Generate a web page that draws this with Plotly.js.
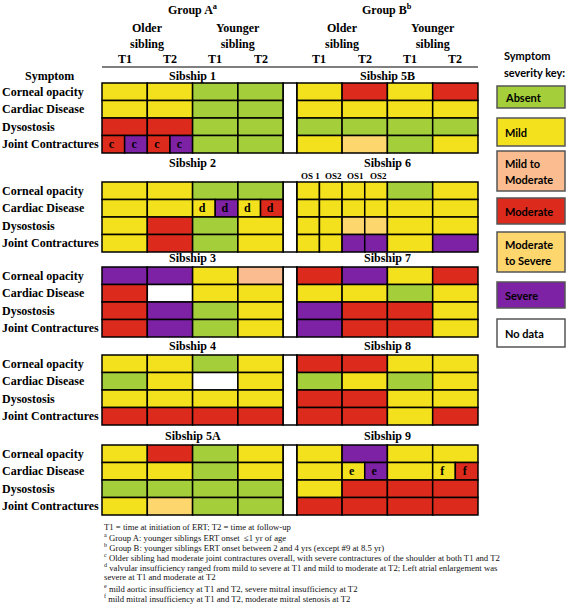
<!DOCTYPE html>
<html>
<head>
<meta charset="utf-8">
<script src="https://cdn.plot.ly/plotly-3.0.1.min.js"></script>
<style>html,body{margin:0;padding:0;background:#fff;} #chart{width:567px;height:604px;}</style>
</head>
<body>
<div id="chart"></div>
<script>
// ---------------- DATA ----------------
const symptoms = ["Corneal opacity", "Cardiac Disease", "Dysostosis", "Joint Contractures"];
const timeLabels = ["T1", "T2", "T1", "T2"];
const siblingLabels = ["Older<br>sibling", "Younger<br>sibling"];
const groupLabels = ["Group A<sup>a</sup>", "Group B<sup>b</sup>"];

const severityCodes = ["Ab", "Mi", "MM", "Mo", "MS", "Se", "ND"];
const severityLabels = ["Absent", "Mild", "Mild to\nModerate", "Moderate", "Moderate\nto Severe", "Severe", "No data"];

const sibshipNames = ["Sibship 1", "Sibship 2", "Sibship 3", "Sibship 4", "Sibship 5A",
                      "Sibship 5B", "Sibship 6", "Sibship 7", "Sibship 8", "Sibship 9"];
const sibshipGroup = ["A", "A", "A", "A", "A", "B", "B", "B", "B", "B"];

// cell = severity code; "x|y" = split cell; ":n" = footnote letter
// columns: older T1, older T2, younger T1, younger T2 ; rows: symptoms
const sib1  = [["Mi","Mi","Ab","Ab"], ["Mi","Mi","Ab","Ab"], ["Mo","Mo","Ab","Ab"], ["Mo|Se:c","Mo|Se:c","Ab","Ab"]];
const sib2  = [["Mi","Mi","Ab","Ab"], ["Mi","Mi","Mi|Se:d","Mi|Mo:d"], ["Mi","Mo","Ab","Mi"], ["Mi","Mo","Ab","Mi"]];
const sib3  = [["Se","Se","Mi","MM"], ["Mo","ND","Mi","Mi"], ["Mo","Se","Ab","Mi"], ["Mo","Se","Ab","Mi"]];
const sib4  = [["Mi","Mi","Ab","Mi"], ["Ab","Mi","ND","Mi"], ["Mi","Mi","Mi","Mi"], ["Mo","Mo","Mo","Mo"]];
const sib5A = [["Mi","Mo","Ab","Mi"], ["Mi","Mi","Ab","Mi"], ["Ab","Ab","Ab","Ab"], ["Mi","MS","Ab","Ab"]];
const sib5B = [["Mi","Mo","Mi","Mo"], ["Mi","Mi","Mi","Mi"], ["Ab","Ab","Ab","Ab"], ["Mi","MS","Ab","Mi"]];
const sib6  = [["Mi|Mi","Mi|Mi","Ab","Mi"], ["Mi|Mi","Mi|Mi","Mi","Mi"], ["Mi|Mi","MS|MS","Mi","Mi"], ["Mi|Mi","Se|Se","Mi","Se"]];
const sib7  = [["Mo","Se","Mi","Mo"], ["Mi","Mi","Ab","Mi"], ["Se","Mo","Mo","Mi"], ["Se","Mo","Mo","Mi"]];
const sib8  = [["Mo","Mo","Mi","Mi"], ["Ab","Mi","Ab","Mi"], ["Mo","Mo","Mi","Mi"], ["Mo","Mo","Mi","Mo"]];
const sib9  = [["Mi","Se","Mi","Mi"], ["Mi","Mi|Se:e","Mi","Mi|Mo:f"], ["Mi","Mo","Mo","Mo"], ["Mo","Mo","Mo","Mo"]];
const sibshipValues = [sib1, sib2, sib3, sib4, sib5A, sib5B, sib6, sib7, sib8, sib9];

const osLabels = ["OS 1", "OS2", "OS1", "OS2"];

const footnotes = [
  "T1 = time at initiation of ERT; T2 = time at follow-up",
  "<sup>a</sup> Group A: younger siblings ERT onset  \u22641 yr of age",
  "<sup>b</sup> Group B: younger siblings ERT onset between 2 and 4 yrs (except #9 at 8.5 yr)",
  "<sup>c</sup> Older sibling had moderate joint contractures overall, with severe contractures of the shoulder at both T1 and T2",
  "<sup>d</sup> valvular insufficiency ranged from mild to severe at T1 and mild to moderate at T2; Left atrial enlargement was",
  "severe at T1 and moderate at T2",
  "<sup>e</sup> mild aortic insufficiency at T1 and T2, severe mitral insufficiency at T2",
  "<sup>f</sup> mild mitral insufficiency at T1 and T2, moderate mitral stenosis at T2"
];

// ---------------- STYLE / GEOMETRY ----------------
const colors = {Ab:"#a4cf3b", Mi:"#f3e11d", MM:"#fbbd8f", Mo:"#dc2b1c", MS:"#fdd66d", Se:"#7d21a5", ND:"#ffffff"};
const W = 567, H = 604;
const PXC = 45.3, PXR = 17.5, X0 = 102, Y0 = 83;
const px2x = p => (p - X0) / PXC;
const px2y = p => (p - Y0) / PXR;
const groupStart = {A: 0, B: 4.3};
const blockTop = [0, 5.66, 10.51, 15.54, 20.69];
const titleLift = [0.42, 1.1, 0.52, 0.52, 0.52];
const serif = "Liberation Serif, Times New Roman, serif";
const sans = "Lato, Liberation Sans, sans-serif";

// ---------------- BUILD ----------------
const bx = [], bw = [], by = [], bh = [], bc = [];
const lx = [], ly = [], lt = [];
sibshipValues.forEach((vals, s) => {
  const b = s % 5, gx = groupStart[sibshipGroup[s]];
  vals.forEach((row, r) => {
    row.forEach((cell, c) => {
      const [codeStr, note] = cell.split(":");
      const parts = codeStr.split("|");
      const w = 1 / parts.length;
      parts.forEach((code, k) => {
        const x0 = gx + c + k * w;
        bx.push(x0); bw.push(w); by.push(blockTop[b] + r + 0.5); bh.push(1); bc.push(colors[code]);
        if (note) { lx.push(x0 + w * 0.42); ly.push(blockTop[b] + r + 0.55); lt.push(note); }
      });
    });
  });
});

const traces = [];
traces.push({
  type: "bar", orientation: "h", base: bx, x: bw, y: by, width: bh,
  marker: {color: bc, line: {color: "#000", width: 1.5}},
  hoverinfo: "skip", showlegend: false
});
// white separator column
traces.push({
  type: "bar", orientation: "h",
  base: blockTop.map(() => 4), x: blockTop.map(() => 0.3),
  y: blockTop.map(t => t + 2), width: blockTop.map(() => 4),
  marker: {color: "#fff", line: {color: "#000", width: 1.5}},
  hoverinfo: "skip", showlegend: false
});
// cell footnote letters
traces.push({
  type: "scatter", mode: "text", x: lx, y: ly, text: lt,
  textfont: {family: serif, size: 12, color: "#000", weight: "bold"},
  hoverinfo: "skip", showlegend: false
});
// severity key boxes
const keyTopPx = [86, 118, 151, 198, 232, 282, 319];
const keyBotPx = [108, 146, 191, 224, 272, 308, 347];
traces.push({
  type: "bar", orientation: "h",
  base: severityCodes.map(() => px2x(497)), x: severityCodes.map(() => (565 - 497) / PXC),
  y: severityCodes.map((c, i) => px2y((keyTopPx[i] + keyBotPx[i]) / 2)),
  width: severityCodes.map((c, i) => (keyBotPx[i] - keyTopPx[i]) / PXR),
  marker: {color: severityCodes.map(c => colors[c]), line: {color: "#555", width: 1.5}},
  hoverinfo: "skip", showlegend: false
});

const ann = [];
const A = (x, y, text, o = {}) => ann.push(Object.assign({
  x, y, xref: "x", yref: "y", text, showarrow: false,
  font: {family: serif, size: 12, color: "#000", weight: "bold"}
}, o));

["A", "B"].forEach((g, gi) => {
  const gx = groupStart[g];
  A(gx + 2, px2y(9), groupLabels[gi]);
  A(gx + 1, px2y(35.5), siblingLabels[0]);
  A(gx + 3, px2y(35.5), siblingLabels[1]);
  timeLabels.forEach((t, c) => A(gx + c + 0.5, px2y(59), t));
});
A(px2x(49), px2y(76), "Symptom");
sibshipNames.forEach((n, s) => {
  const b = s % 5, gx = groupStart[sibshipGroup[s]];
  A(gx + 2, blockTop[b] - titleLift[b], n);
  if (s < 5) {
    symptoms.forEach((sym, r) => A(px2x(0), blockTop[b] + r + 0.5, sym, {xanchor: "left"}));
  }
});
osLabels.forEach((t, k) => A(groupStart.B + (k + 0.5) * 0.5 + 0.05, blockTop[1] - 0.35, t,
  {font: {family: serif, size: 9, color: "#000", weight: "bold"}}));
// key title
A(px2x(502), px2y(55), "Symptom", {xanchor: "left", font: {family: sans, size: 11, color: "#000", weight: "bold"}});
A(px2x(502), px2y(72), "severity key:", {xanchor: "left", font: {family: sans, size: 11, color: "#000", weight: "bold"}});
severityLabels.forEach((lab, i) => {
  const lines = lab.split("\n");
  const cy = (keyTopPx[i] + keyBotPx[i]) / 2;
  lines.forEach((ln, j) => {
    const yy = cy + (j - (lines.length - 1) / 2) * 16;
    A(px2x(503), px2y(yy), ln, {xanchor: "left", font: {family: sans, size: 11, color: "#000", weight: "bold"}});
  });
});
const footY = [527, 537, 547, 557, 567, 577, 588, 598];
footnotes.forEach((f, i) => A(px2x(102), px2y(footY[i]), f,
  {xanchor: "left", font: {family: serif, size: 8.7, color: "#111"}}));

const layout = {
  width: W, height: H, autosize: false,
  margin: {l: 0, r: 0, t: 0, b: 0, pad: 0},
  paper_bgcolor: "#fff", plot_bgcolor: "#fff",
  barmode: "overlay", showlegend: false, hovermode: false,
  xaxis: {range: [px2x(0), px2x(W)], visible: false, fixedrange: true},
  yaxis: {range: [px2y(H), px2y(0)], visible: false, fixedrange: true},
  shapes: [{type: "line", xref: "x", yref: "y", x0: 0, x1: 8.3, y0: px2y(67), y1: px2y(67),
            line: {color: "#000", width: 1.2}}],
  annotations: ann
};
Plotly.newPlot("chart", traces, layout, {displayModeBar: false, staticPlot: true});
</script>
</body>
</html>
